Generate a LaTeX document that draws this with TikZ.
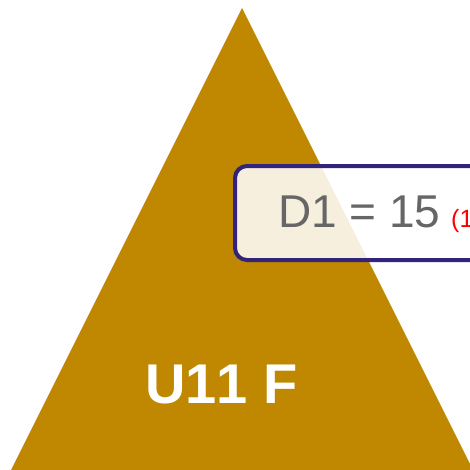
\documentclass[tikz,border=0pt]{standalone}
\usepackage{fontspec}
\setmainfont{Liberation Sans}
\newfontfamily\nokernbold[Kerning=Off]{Liberation Sans}
\definecolor{gold}{RGB}{191,136,0}
\definecolor{boxborder}{RGB}{49,36,122}
\definecolor{txtgray}{RGB}{102,102,102}
\definecolor{txtred}{RGB}{255,0,0}
\begin{document}
\begin{tikzpicture}[x=1pt,y=-1pt,
  tri/.style={fill=gold,draw=none},
  callout/.style={draw=boxborder,line width=4pt,fill=white,fill opacity=0.87,rounded corners=12pt},
  lbl/.style={inner sep=0pt,anchor=base west}]
\useasboundingbox (0,0) rectangle (470,469);
\fill[white] (0,0) rectangle (470,469);
\coordinate (apex) at (242,8);
\coordinate (bl) at (11,470);
\coordinate (br) at (473,470);
\path[tri] (apex) -- (br) -- (bl) -- cycle;
\node[lbl,text=white,font=\nokernbold\fontsize{56}{56}\selectfont\bfseries] (u11) at (145,403) {U11 F};
\draw[callout] (235,166) rectangle (500,260);
\node[lbl,text=txtgray,font=\fontsize{46}{46}\selectfont] (d1) at (278,227) {D1 = 15};
\node[lbl,text=txtred,font=\fontsize{25}{25}\selectfont] (red) at (451,227) {(1};
\end{tikzpicture}
\end{document}
